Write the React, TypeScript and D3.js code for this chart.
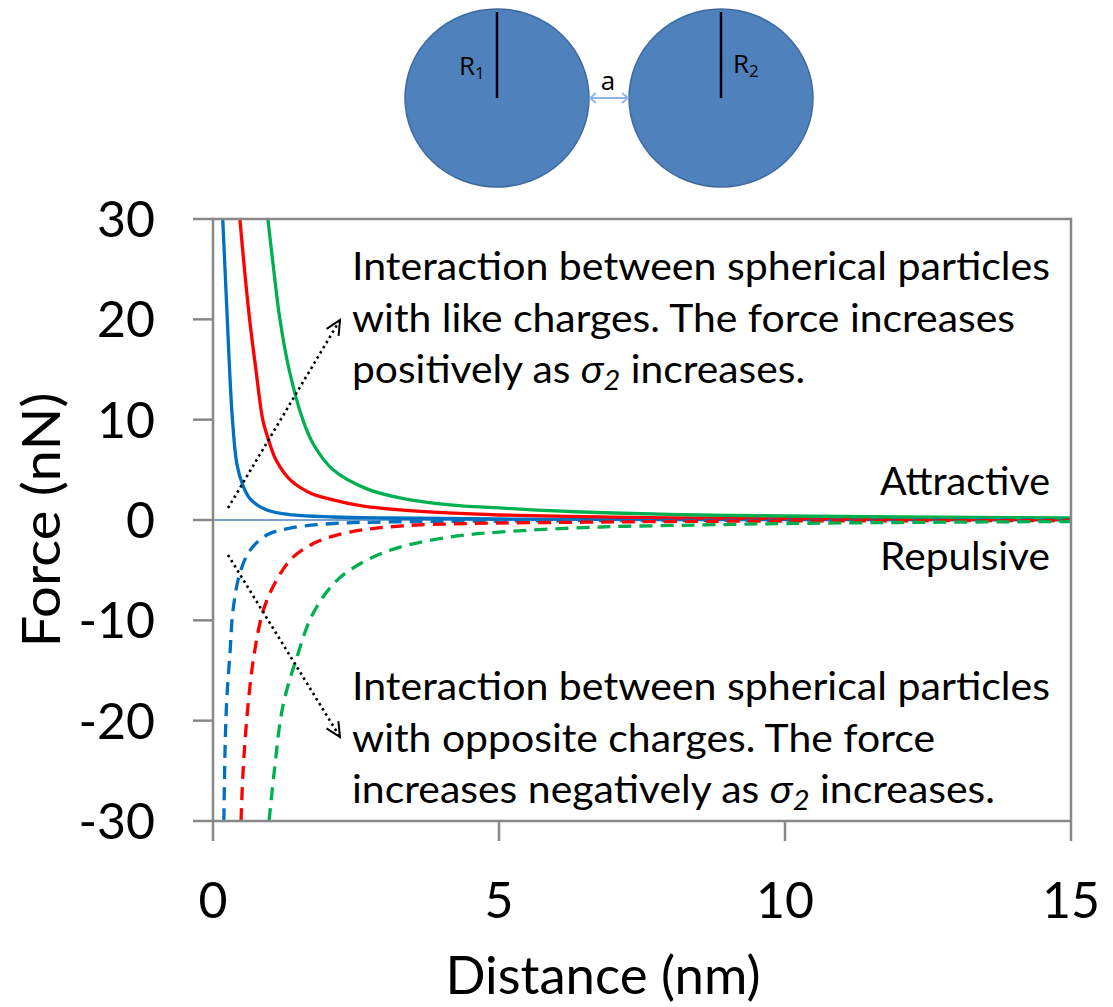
import React from 'react';
import * as d3 from 'd3';

// distance (nm), force (nN)
const blueSolid: [number, number][] = [
  [0.17, 30], [0.21, 25], [0.25, 20], [0.29, 15], [0.34, 10], [0.42, 5.5], [0.52, 3.5],
  [0.65, 2.1], [0.94, 1.0], [1.4, 0.5], [2.1, 0.3], [3, 0.2], [5, 0.1], [8, 0.05], [15, 0.02],
];
const redSolid: [number, number][] = [
  [0.47, 30], [0.55, 25], [0.64, 20], [0.75, 15], [0.87, 10], [0.97, 8], [1.1, 6], [1.35, 4.0],
  [1.7, 2.7], [2.1, 2.0], [2.6, 1.4], [3.27, 1.0], [4.1, 0.7], [5, 0.5], [6.5, 0.33], [8, 0.22],
  [10, 0.14], [12.5, 0.1], [15, 0.07],
];
const greenSolid: [number, number][] = [
  [0.96, 30], [1.06, 25], [1.17, 20], [1.33, 15], [1.57, 10], [1.75, 7.6], [2.1, 5.0],
  [2.69, 3.1], [3.27, 2.2], [4.14, 1.5], [5, 1.2], [6, 0.9], [7, 0.7], [8.5, 0.5], [10, 0.4],
  [12, 0.3], [15, 0.2],
];
const blueDashed: [number, number][] = [
  [0.19, -30], [0.21, -23], [0.24, -18], [0.3, -13], [0.35, -9], [0.47, -5.3], [0.65, -3],
  [0.94, -1.5], [1.35, -0.8], [2.1, -0.35], [3, -0.2], [5, -0.1], [8, -0.05], [15, -0.02],
];
const redDashed: [number, number][] = [
  [0.49, -30], [0.53, -24.6], [0.62, -18], [0.73, -13], [0.88, -9], [1.11, -6], [1.4, -3.7],
  [1.81, -2.2], [2.39, -1.2], [3.27, -0.6], [4.5, -0.35], [6.5, -0.22], [8, -0.15], [10, -0.1],
  [15, -0.05],
];
const greenDashed: [number, number][] = [
  [0.98, -30], [1.08, -24.6], [1.22, -18.6], [1.47, -13.6], [1.75, -9.3], [2.17, -6], [2.69, -4],
  [3.27, -2.7], [4.14, -1.7], [5, -1.2], [6.77, -0.7], [8.5, -0.5], [10, -0.35], [12, -0.25],
  [15, -0.15],
];

const xTicks = [0, 5, 10, 15];
const yTicks = [30, 20, 10, 0, -10, -20, -30];

const series = [
  { data: blueSolid, color: '#0070C0', dash: null },
  { data: redSolid, color: '#FF0000', dash: null },
  { data: greenSolid, color: '#00B050', dash: null },
  { data: blueDashed, color: '#0070C0', dash: '13,8' },
  { data: redDashed, color: '#FF0000', dash: '13,8' },
  { data: greenDashed, color: '#00B050', dash: '13,8' },
];

const likeLines = [
  'Interaction between spherical particles',
  'with like charges. The force increases',
  'positively as ',
];
const oppositeLines = [
  'Interaction between spherical particles',
  'with opposite charges. The force',
  'increases negatively as ',
];

const W = 1113, H = 1007;
const margin = { left: 213, right: 42, top: 219, bottom: 186 };
const FONT = 'Lato, "Open Sans", sans-serif';
const AXIS = '#888888';

const Arrow = ({ x1, y1, x2, y2 }: { x1: number; y1: number; x2: number; y2: number }) => {
  const ang = Math.atan2(y2 - y1, x2 - x1);
  const len = 16, spread = Math.PI / 7;
  const a = [x2 - len * Math.cos(ang - spread), y2 - len * Math.sin(ang - spread)];
  const b = [x2 - len * Math.cos(ang + spread), y2 - len * Math.sin(ang + spread)];
  return (
    <g stroke="#000" strokeWidth={2.6} fill="none">
      <line x1={x1} y1={y1} x2={x2} y2={y2} strokeDasharray="2.5,3.5" />
      <polyline points={`${a[0]},${a[1]} ${x2},${y2} ${b[0]},${b[1]}`} strokeWidth={2} />
    </g>
  );
};

const Sigma = () => (
  <>
    <tspan fontStyle="italic">σ</tspan>
    <tspan fontStyle="italic" fontSize={27} dy={7}>2</tspan>
    <tspan dy={-7}> increases.</tspan>
  </>
);

const App = () => {
  const x = d3.scaleLinear().domain([0, 15]).range([margin.left, W - margin.right]);
  const y = d3.scaleLinear().domain([-30, 30]).range([H - margin.bottom, margin.top]);
  const line = d3.line<[number, number]>()
    .x(d => x(d[0]))
    .y(d => y(d[1]))
    .curve(d3.curveCatmullRom.alpha(0.5));

  const [x0, x1] = x.range();
  const [yb, yt] = y.range();

  return (
    <svg width={W} height={H} style={{ position: 'absolute', left: 0, top: 0, background: '#fff' }}
      fontFamily={FONT}>
      <defs>
        <clipPath id="plot">
          <rect x={x0} y={yt} width={x1 - x0} height={yb - yt} />
        </clipPath>
      </defs>

      {/* particle sketch */}
      <g fontFamily='"Open Sans", sans-serif' fill="#000">
        <ellipse cx={497} cy={98} rx={92} ry={89} fill="#4F81BD" stroke="#3E6A9E" strokeWidth={1.5} />
        <ellipse cx={721} cy={98} rx={92} ry={89} fill="#4F81BD" stroke="#3E6A9E" strokeWidth={1.5} />
        <line x1={497} y1={12} x2={497} y2={98} stroke="#000" strokeWidth={2.5} />
        <line x1={721} y1={12} x2={721} y2={98} stroke="#000" strokeWidth={2.5} />
        <text x={459} y={75} fontSize={26}>
          R<tspan fontSize={17} dy={4}>1</tspan>
        </text>
        <text x={733} y={73} fontSize={26}>
          R<tspan fontSize={17} dy={4}>2</tspan>
        </text>
        <text x={608} y={90} fontSize={26} textAnchor="middle">a</text>
        <g stroke="#8DB3E2" strokeWidth={1.8} fill="none">
          <line x1={590} y1={98} x2={628} y2={98} />
          <polyline points="596,93 590,98 596,103" />
          <polyline points="622,93 628,98 622,103" />
        </g>
      </g>

      {/* zero line */}
      <line x1={x0} x2={x1} y1={y(0)} y2={y(0)} stroke="#4F81BD" strokeWidth={1.5} />

      {/* series */}
      <g clipPath="url(#plot)">
        {series.map((s, i) => (
          <path key={i} d={line(s.data) || ''} fill="none" stroke={s.color} strokeWidth={3.3}
            strokeDasharray={s.dash || undefined} />
        ))}
      </g>

      {/* frame and ticks */}
      <rect x={x0} y={yt} width={x1 - x0} height={yb - yt} fill="none" stroke={AXIS} strokeWidth={2.5} />
      {yTicks.map(t => (
        <g key={t}>
          <line x1={x0 - 20} x2={x0} y1={y(t)} y2={y(t)} stroke={AXIS} strokeWidth={2.5} />
          <text x={155} y={y(t)} dy="0.36em" textAnchor="end" fontSize={50} fill="#000">{t}</text>
        </g>
      ))}
      {xTicks.map(t => (
        <g key={t}>
          <line x1={x(t)} x2={x(t)} y1={yb} y2={yb + 20} stroke={AXIS} strokeWidth={2.5} />
          <text x={x(t)} y={918} textAnchor="middle" fontSize={50} fill="#000">{t}</text>
        </g>
      ))}

      {/* axis titles */}
      <text x={603} y={994} textAnchor="middle" fontSize={52} fill="#000" textLength={315}
        lengthAdjust="spacingAndGlyphs">Distance (nm)</text>
      <text transform={`translate(60, ${(yt + yb) / 2}) rotate(-90)`} textAnchor="middle" fontSize={52}
        fill="#000" textLength={255} lengthAdjust="spacingAndGlyphs">Force (nN)</text>

      {/* region labels */}
      <text x={1050} y={495} textAnchor="end" fontSize={38} fill="#000" textLength={170}
        lengthAdjust="spacingAndGlyphs">Attractive</text>
      <text x={1050} y={570} textAnchor="end" fontSize={38} fill="#000" textLength={170}
        lengthAdjust="spacingAndGlyphs">Repulsive</text>

      {/* annotations */}
      <g fontSize={38} fill="#000">
        <text x={352} y={280} textLength={698} lengthAdjust="spacingAndGlyphs">{likeLines[0]}</text>
        <text x={352} y={332} textLength={663} lengthAdjust="spacingAndGlyphs">{likeLines[1]}</text>
        <text x={352} y={383} textLength={453} lengthAdjust="spacingAndGlyphs">{likeLines[2]}<Sigma /></text>
        <text x={352} y={700} textLength={698} lengthAdjust="spacingAndGlyphs">{oppositeLines[0]}</text>
        <text x={352} y={752} textLength={583} lengthAdjust="spacingAndGlyphs">{oppositeLines[1]}</text>
        <text x={352} y={803} textLength={643} lengthAdjust="spacingAndGlyphs">{oppositeLines[2]}<Sigma /></text>
      </g>

      <Arrow x1={228} y1={508} x2={340} y2={320} />
      <Arrow x1={228} y1={555} x2={340} y2={737} />
    </svg>
  );
};

export default App;
